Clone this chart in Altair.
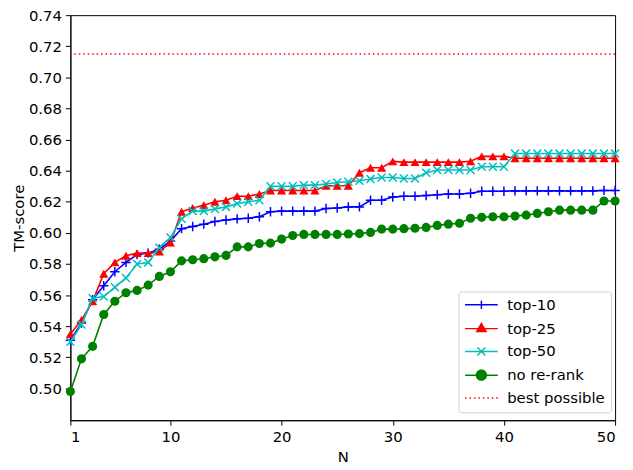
import altair as alt
import pandas as pd

N = list(range(1, 51))

top10 = [0.531, 0.542, 0.557, 0.566, 0.575, 0.581, 0.586, 0.587, 0.5895, 0.5947,
         0.6027, 0.6041, 0.6056, 0.6073, 0.6083, 0.609, 0.6094, 0.6104, 0.6136, 0.614,
         0.614, 0.614, 0.614, 0.6157, 0.616, 0.6167, 0.6167, 0.621, 0.621, 0.623,
         0.6236, 0.6236, 0.624, 0.6245, 0.625, 0.625, 0.6255, 0.6268, 0.6268, 0.6268,
         0.627, 0.627, 0.627, 0.627, 0.627, 0.627, 0.627, 0.627, 0.6273, 0.6273]

top25 = [0.535, 0.544, 0.556, 0.5737, 0.581, 0.5853, 0.587, 0.587, 0.588, 0.5937,
         0.6136, 0.616, 0.6178, 0.620, 0.621, 0.6236, 0.6236, 0.625, 0.6272, 0.6272,
         0.6272, 0.6272, 0.6272, 0.6303, 0.6303, 0.6303, 0.6387, 0.6419, 0.6419, 0.646,
         0.6455, 0.6455, 0.6455, 0.6455, 0.6455, 0.6455, 0.646, 0.6492, 0.6492, 0.6492,
         0.648, 0.648, 0.648, 0.648, 0.648, 0.648, 0.648, 0.648, 0.648, 0.648]

top50 = [0.530, 0.541, 0.558, 0.559, 0.565, 0.571, 0.580, 0.581, 0.5905, 0.597,
         0.609, 0.614, 0.614, 0.6153, 0.6167, 0.6188, 0.620, 0.621, 0.630, 0.630,
         0.630, 0.6307, 0.6307, 0.6314, 0.6324, 0.6329, 0.6335, 0.6346, 0.6356, 0.6356,
         0.635, 0.635, 0.6387, 0.6404, 0.6404, 0.6404, 0.6404, 0.6425, 0.6425, 0.6425,
         0.651, 0.651, 0.651, 0.651, 0.651, 0.651, 0.651, 0.651, 0.651, 0.651]

no_rerank = [0.498, 0.519, 0.527, 0.5475, 0.556, 0.5615, 0.563, 0.5664, 0.572, 0.575,
             0.582, 0.5827, 0.5834, 0.5846, 0.5855, 0.591, 0.591, 0.5932, 0.5934, 0.596,
             0.5983, 0.599, 0.599, 0.599, 0.599, 0.5993, 0.5995, 0.6003, 0.6024, 0.6024,
             0.6027, 0.603, 0.6035, 0.6048, 0.6056, 0.6062, 0.6094, 0.610, 0.6104, 0.6104,
             0.6108, 0.6114, 0.6125, 0.6136, 0.6146, 0.6146, 0.6146, 0.6146, 0.6205, 0.6205]

best_possible = 0.715

series_names = ["top-10", "top-25", "top-50", "no re-rank", "best possible"]
series_colors = ["#0000ff", "#ff0000", "#00bfbf", "#008000", "#ff0000"]
series_fills = ["transparent", "#ff0000", "transparent", "#008000", "transparent"]
y_ticks = [0.50, 0.52, 0.54, 0.56, 0.58, 0.60, 0.62, 0.64, 0.66, 0.68, 0.70, 0.72, 0.74]
x_ticks = [1, 10, 20, 30, 40, 50]

rows = []
for name, vals in zip(series_names[:4], [top10, top25, top50, no_rerank]):
    for n, v in zip(N, vals):
        rows.append({"N": n, "score": v, "series": name})
df = pd.DataFrame(rows)
best_df = pd.DataFrame({"score": [best_possible], "series": ["best possible"]})
legend_df = pd.DataFrame({"series": series_names})

FONT = "DejaVu Sans"

# legend symbols: a short line with the series marker on it
LINE = "M-3.3,0L3.3,0"
legend_shapes = [
    LINE + "M0,-0.85L0,0.85",
    LINE + "M0,-1.05L0.95,0.6L-0.95,0.6Z",
    LINE + "M-0.8,-0.8L0.8,0.8M-0.8,0.8L0.8,-0.8",
    LINE + "M1,0A1,1,0,1,1,-1,0A1,1,0,1,1,1,0Z",
    LINE,
]
legend_dashes = [[1, 0], [1, 0], [1, 0], [1, 0], [1.5, 3]]

legend = alt.Legend(
    title=None,
    orient="none",
    legendX=392,
    legendY=279,
    symbolSize=100,
    symbolStrokeWidth=1.5,
    symbolOpacity=1,
    symbolOffset=9.5,
    labelOffset=18.5,
    labelFont=FONT,
    labelFontSize=15,
    labelColor="black",
    fillColor="white",
    strokeColor="#d0d0d0",
    cornerRadius=3,
    padding=6,
    rowPadding=7,
)

axis_common = dict(labelOverlap=False)
x_enc = alt.X("N:Q", scale=alt.Scale(domain=[1, 50], nice=False, zero=False),
              axis=alt.Axis(values=x_ticks, title="N", format="d", **axis_common))
y_enc = alt.Y("score:Q", scale=alt.Scale(domain=[0.4795, 0.74], nice=False, zero=False),
              axis=alt.Axis(values=y_ticks, title="TM-score", format=".2f", **axis_common))


def series_layer(name, color, shape, filled, size):
    return (
        alt.Chart(df)
        .transform_filter(alt.datum.series == name)
        .mark_line(
            color=color,
            strokeWidth=1.6,
            point=alt.OverlayMarkDef(shape=shape, filled=filled, size=size, color=color,
                                     strokeWidth=1.5, opacity=1),
        )
        .encode(x=x_enc, y=y_enc)
    )


plus_path = "M-1,0L1,0M0,-1L0,1"
x_path = "M-1,-1L1,1M-1,1L1,-1"

legend_layer = alt.Chart(legend_df).mark_point(opacity=0, size=100, strokeWidth=1.5).encode(
    stroke=alt.Stroke("series:N", scale=alt.Scale(domain=series_names, range=series_colors), legend=legend),
    fill=alt.Fill("series:N", scale=alt.Scale(domain=series_names, range=series_fills), legend=legend),
    shape=alt.Shape("series:N", scale=alt.Scale(domain=series_names, range=legend_shapes), legend=legend),
    strokeDash=alt.StrokeDash("series:N", scale=alt.Scale(domain=series_names, range=legend_dashes), legend=legend),
)

layers = [
    series_layer("top-10", series_colors[0], plus_path, False, 90),
    series_layer("top-25", series_colors[1], "triangle-up", True, 85),
    series_layer("top-50", series_colors[2], x_path, False, 64),
    series_layer("no re-rank", series_colors[3], "circle", True, 85),
    alt.Chart(best_df).mark_rule(color=series_colors[4], strokeWidth=1.5, strokeDash=[1.5, 3]).encode(
        y=y_enc
    ),
    legend_layer,
]

chart = (
    alt.layer(*layers)
    .properties(
        width=550,
        height=409,
        autosize=alt.AutoSizeParams(type="none"),
        padding={"left": 63, "top": 5, "right": 10, "bottom": 48},
        background="white",
    )
    .configure_view(stroke="black", strokeWidth=1)
    .configure_axis(
        grid=False,
        domainColor="black",
        domainWidth=1,
        tickColor="black",
        tickWidth=1,
        tickSize=5,
        labelFont=FONT,
        labelFontSize=15,
        labelColor="black",
        labelPadding=4,
        titleFont=FONT,
        titleFontSize=15,
        titleFontWeight="normal",
        titleColor="black",
    )
    .configure_axisX(titlePadding=6)
    .configure_axisY(titlePadding=2)
)

chart.save("out.html", embed_options={"renderer": "svg", "actions": False})
